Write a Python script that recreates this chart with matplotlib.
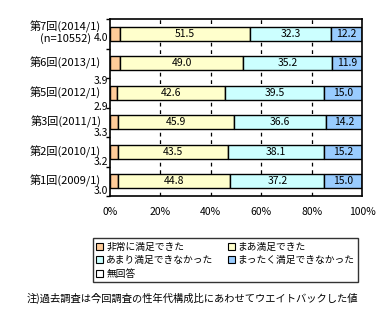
import numpy as np
import matplotlib.pyplot as plt
from matplotlib.transforms import blended_transform_factory

plt.rcParams['font.family'] = ['Noto Sans CJK JP', 'DejaVu Sans']

# Data (top to bottom)
categories = ['第7回(2014/1)', '第6回(2013/1)', '第5回(2012/1)',
              '第3回(2011/1)', '第2回(2010/1)', '第1回(2009/1)']
sample_note = '(n=10552)'
very_satisfied = [4.0, 3.9, 2.9, 3.3, 3.2, 3.0]
somewhat_satisfied = [51.5, 49.0, 42.6, 45.9, 43.5, 44.8]
not_very_satisfied = [32.3, 35.2, 39.5, 36.6, 38.1, 37.2]
not_at_all_satisfied = [12.2, 11.9, 15.0, 14.2, 15.2, 15.0]
no_answer = [0.0, 0.0, 0.0, 0.0, 0.0, 0.0]

series_names = ['非常に満足できた', 'まあ満足できた', 'あまり満足できなかった',
                'まったく満足できなかった', '無回答']
colors = ['#FFCC99', '#FFFFCC', '#CCFFFF', '#99CCFF', '#FFFFFF']
series = [very_satisfied, somewhat_satisfied, not_very_satisfied,
          not_at_all_satisfied, no_answer]

# vertical offsets of the small labels (in row units, positive = down)
small_label_offsets = [0.15, 0.61, 0.47, 0.37, 0.34, 0.34]

fig = plt.figure(figsize=(3.88, 3.22), dpi=100)
ax = fig.add_axes([110 / 388, 1 - 196 / 322, 252 / 388, 177 / 322])

n = len(categories)
y = np.arange(n)[::-1]

# dashed grid behind the bars
for gx in [20, 40, 60, 80]:
    ax.axvline(gx, color='black', linestyle=(0, (3, 3)), linewidth=0.9, zorder=0)

bars = []
left = np.zeros(n)
for vals, col, name in zip(series, colors, series_names):
    vals = np.array(vals)
    b = ax.barh(y, vals, left=left, height=0.46, color=col,
                edgecolor='black', linewidth=1.0, label=name, zorder=2)
    bars.append(b)
    left += vals

# value labels inside the bars (series 2-4)
left = np.array(very_satisfied, dtype=float)
for vals in [somewhat_satisfied, not_very_satisfied, not_at_all_satisfied]:
    for yi, l, v in zip(y, left, vals):
        ax.text(l + v / 2, yi, f'{v:.1f}', ha='center', va='center',
                fontsize=7.5, zorder=3)
    left = left + np.array(vals)

# small labels for the first series, left of the axis
trans = blended_transform_factory(ax.transAxes, ax.transData)
for yi, v, off in zip(y, very_satisfied, small_label_offsets):
    ax.text(-0.006, yi - off, f'{v:.1f}', ha='right', va='center',
            fontsize=7.5, transform=trans, clip_on=False)

# category labels
for i, (yi, cat) in enumerate(zip(y, categories)):
    if i == 0:
        t = ax.text(-0.035, yi + 0.24, cat, ha='right', va='center',
                    fontsize=8, transform=trans, clip_on=False)
        ax.annotate(sample_note, xy=(0.5, 0), xycoords=t, ha='center',
                    va='top', fontsize=8)
    else:
        ax.text(-0.035, yi, cat, ha='right', va='center', fontsize=8,
                transform=trans, clip_on=False)

ax.set_xlim(0, 100)
ax.set_ylim(-0.5, n - 0.5)
ax.set_xticks([0, 20, 40, 60, 80, 100])
ax.set_xticklabels(['0%', '20%', '40%', '60%', '80%', '100%'], fontsize=7.5)
ax.tick_params(axis='x', length=0, pad=8)

# category boundaries as ticks
ax.set_yticks(np.arange(n + 1) - 0.5)
ax.set_yticklabels([])
ax.tick_params(axis='y', which='major', length=3, width=1, direction='out')

for sp in ax.spines.values():
    sp.set_linewidth(1.2)

# legend: column-major order so rows read like the reference
handles = [bars[0], bars[2], bars[4], bars[1], bars[3]]
labels = [series_names[0], series_names[2], series_names[4],
          series_names[1], series_names[3]]
leg = fig.legend(handles, labels, ncol=2, mode='expand',
                 bbox_to_anchor=(93 / 388, 1 - 282 / 322, 265 / 388, 50 / 322),
                 loc='lower left', fontsize=7, frameon=True, fancybox=False,
                 handlelength=0.7, handleheight=0.7, handletextpad=0.3,
                 labelspacing=0.35, borderpad=0.35, borderaxespad=0,
                 columnspacing=1.0)
leg.get_frame().set_edgecolor('black')
leg.get_frame().set_linewidth(1.0)
for h in leg.legend_handles:
    h.set_linewidth(0.8)

fig.text(27 / 388, 1 - 298 / 322,
         '注)過去調査は今回調査の性年代構成比にあわせてウエイトバックした値',
         fontsize=7.4, ha='left', va='center')

fig.savefig('out.png', dpi=100)
